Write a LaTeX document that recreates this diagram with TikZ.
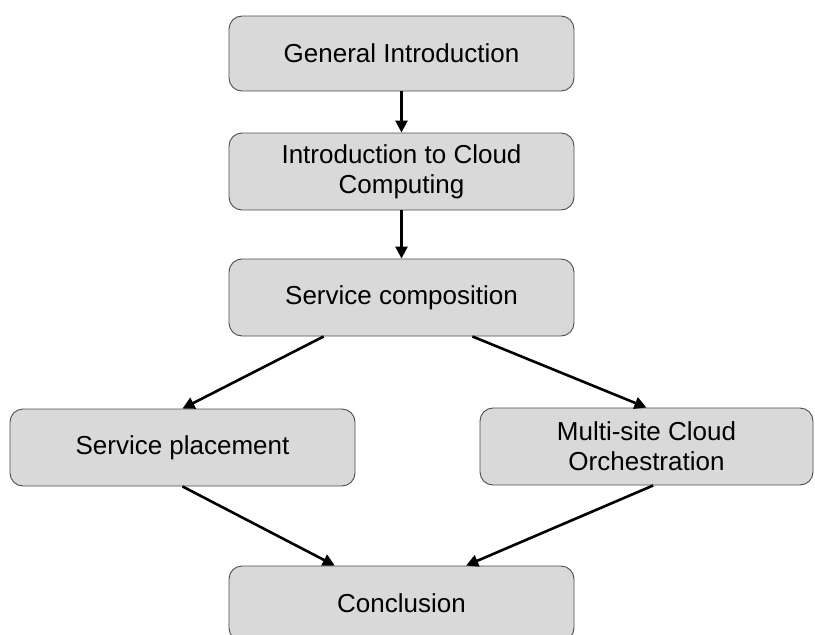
\documentclass[tikz,border=0pt]{standalone}
\usepackage{fontspec}
\setmainfont{Liberation Sans}
\usetikzlibrary{arrows.meta,calc}
\tikzset{
  stepbox/.style={draw=black!70, line width=0.9pt, fill=black!15, rounded corners=13pt,
    minimum width=345pt, minimum height=75pt, inner sep=0pt, align=center,
    font=\fontsize{26pt}{30pt}\selectfont},
  flow/.style={line width=2.6pt, -{Triangle[length=12pt,width=12pt]}}
}
\begin{document}
\begin{tikzpicture}[x=1pt,y=-1pt]
\useasboundingbox (0,0) rectangle (815,635);
\node[stepbox] (b1) at (401.5,53.5) {General Introduction};
\node[stepbox, minimum height=77pt] (b2) at (401.5,171.5) {Introduction to Cloud\\Computing};
\node[stepbox, minimum height=77pt] (b3) at (401.5,297.5) {Service composition};
\node[stepbox, minimum height=77pt] (b4) at (182.5,447.5) {Service placement};
\node[stepbox, minimum width=333pt, minimum height=77pt] (b5) at (646.5,446.5) {Multi-site Cloud\\Orchestration};
\node[stepbox] (b6) at (401.5,603.5) {Conclusion};
\draw[flow] (b1.south) -- (b2.north);
\draw[flow] (b2.south) -- (b3.north);
\draw[flow] ($(b3.south west)!0.275!(b3.south east)$) -- (b4.north);
\draw[flow] ($(b3.south west)!0.705!(b3.south east)$) -- (b5.north);
\draw[flow] (b4.south) -- ($(b6.north west)!0.307!(b6.north east)$);
\draw[flow] ($(b5.south west)!0.52!(b5.south east)$) -- ($(b6.north west)!0.687!(b6.north east)$);
\end{tikzpicture}
\end{document}
